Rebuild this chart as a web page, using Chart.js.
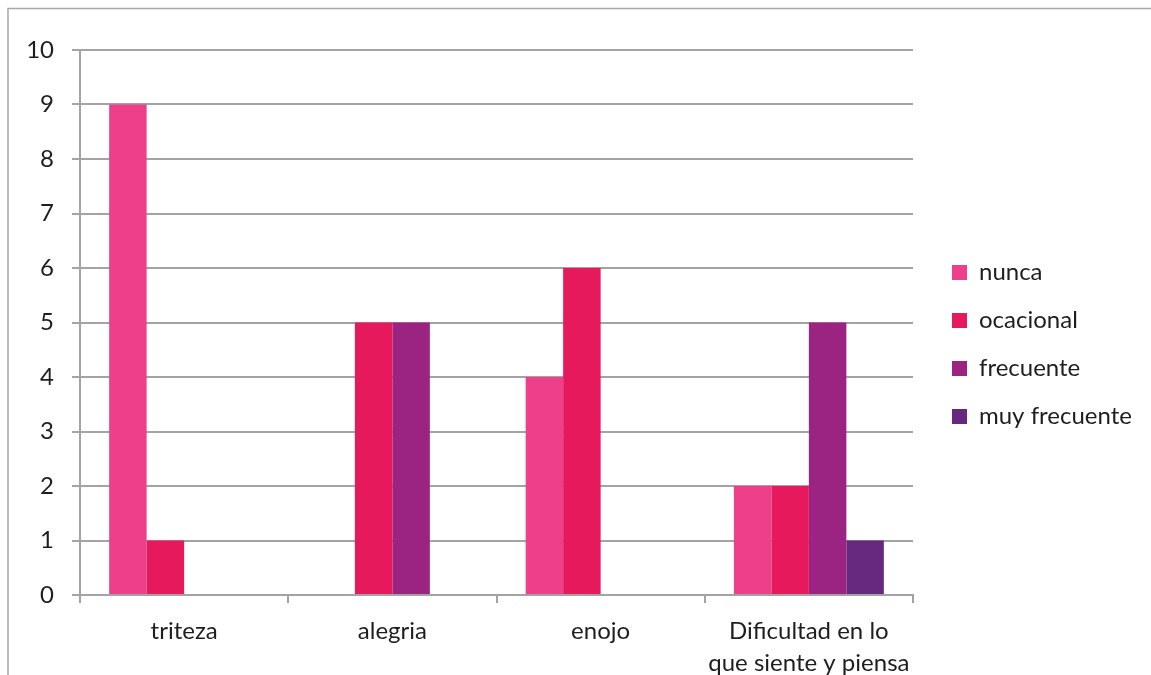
<!DOCTYPE html>
<html><head><meta charset="utf-8">
<script src="https://cdn.jsdelivr.net/npm/chart.js@4/dist/chart.umd.min.js"></script>
<style>html,body{margin:0;padding:0;background:#fff;overflow:hidden}</style>
</head><body>
<canvas id="c" width="1151" height="675" style="display:block;width:1151px;height:675px"></canvas>
<script>
// ---- data ----
const categories = ['triteza', 'alegria', 'enojo', ['Dificultad en lo', 'que siente y piensa']];
const seriesNames = ['nunca', 'ocacional', 'frecuente', 'muy frecuente'];
const nunca = [9, 0, 4, 2];
const ocacional = [1, 5, 6, 2];
const frecuente = [0, 5, 0, 5];
const muyFrecuente = [0, 0, 0, 1];
const yMin = 0, yMax = 10, yStep = 1;

// ---- style ----
const seriesColors = ['#EE3F8A', '#E5195B', '#9B2381', '#67297F'];
const gridColor = '#A3A3A3';
const textColor = '#1E1E1E';
const fontFamily = 'Lato';
const fontSize = 24;

function build() {
  const mctx = document.createElement('canvas').getContext('2d');
  mctx.font = fontSize + 'px ' + fontFamily;
  const maxLegendText = Math.max(...seriesNames.map(s => mctx.measureText(s).width));
  const legPad = 24, legBox = 15;
  const legendWidth = legPad + legBox + fontSize / 2 + maxLegendText + 10;
  const plotRight = 913, gapRight = 15;
  const padRight = Math.max(0, 1151 - plotRight - gapRight - legendWidth);

  const framePlugin = {
    id: 'frame',
    beforeDraw(chart) {
      const ctx = chart.ctx;
      ctx.save();
      ctx.fillStyle = '#fff';
      ctx.fillRect(0, 0, chart.width, chart.height);
      ctx.strokeStyle = '#A8A8A8';
      ctx.lineWidth = 1.5;
      ctx.strokeRect(8, 8.5, 3000, 3000);
      ctx.restore();
    }
  };

  const datasetsValues = [nunca, ocacional, frecuente, muyFrecuente];

  new Chart(document.getElementById('c'), {
    type: 'bar',
    data: {
      labels: categories,
      datasets: datasetsValues.map((vals, i) => ({
        label: seriesNames[i],
        data: vals,
        backgroundColor: seriesColors[i],
        borderWidth: 0,
        categoryPercentage: 0.72,
        barPercentage: 1.0
      }))
    },
    options: {
      responsive: false,
      animation: false,
      devicePixelRatio: 1,
      layout: { padding: { top: 14, bottom: 0, left: 0, right: padRight } },
      plugins: {
        tooltip: { enabled: false },
        legend: {
          position: 'right',
          align: 'center',
          maxWidth: 400,
          labels: {
            boxWidth: legBox, boxHeight: legBox, padding: legPad,
            color: textColor,
            font: { family: fontFamily, size: fontSize }
          }
        }
      },
      scales: {
        x: {
          position: 'bottom',
          offset: true,
          grid: { display: true, drawOnChartArea: false, drawTicks: true, tickLength: 8, offset: true, color: gridColor, lineWidth: 2 },
          border: { display: true, color: gridColor, width: 2 },
          ticks: { color: textColor, font: { family: fontFamily, size: fontSize, lineHeight: 1.3 }, padding: 13, maxRotation: 0, autoSkip: false },
          afterFit(s) { s.height = 80; }
        },
        xTop: {
          position: 'top', display: true,
          grid: { display: false }, border: { display: false },
          ticks: { display: false },
          afterFit(s) { s.height = 36; }
        },
        y: {
          position: 'left',
          min: yMin, max: yMax,
          ticks: { stepSize: yStep, color: textColor, font: { family: fontFamily, size: fontSize }, padding: 18 },
          grid: { color: gridColor, lineWidth: 2, tickLength: 8, drawTicks: true },
          border: { display: true, color: gridColor, width: 2 },
          afterFit(s) { s.width = 80; }
        },
        yRight: {
          position: 'right', display: true,
          grid: { display: false }, border: { display: false },
          ticks: { display: false },
          afterFit(s) { s.width = gapRight; }
        }
      }
    },
    plugins: [framePlugin]
  });
}

const fontReady = (document.fonts && document.fonts.load)
  ? document.fonts.load(fontSize + 'px ' + fontFamily).catch(() => {})
  : Promise.resolve();
fontReady.then(() => (document.fonts ? document.fonts.ready : null)).then(build, build);
</script>
</body></html>
